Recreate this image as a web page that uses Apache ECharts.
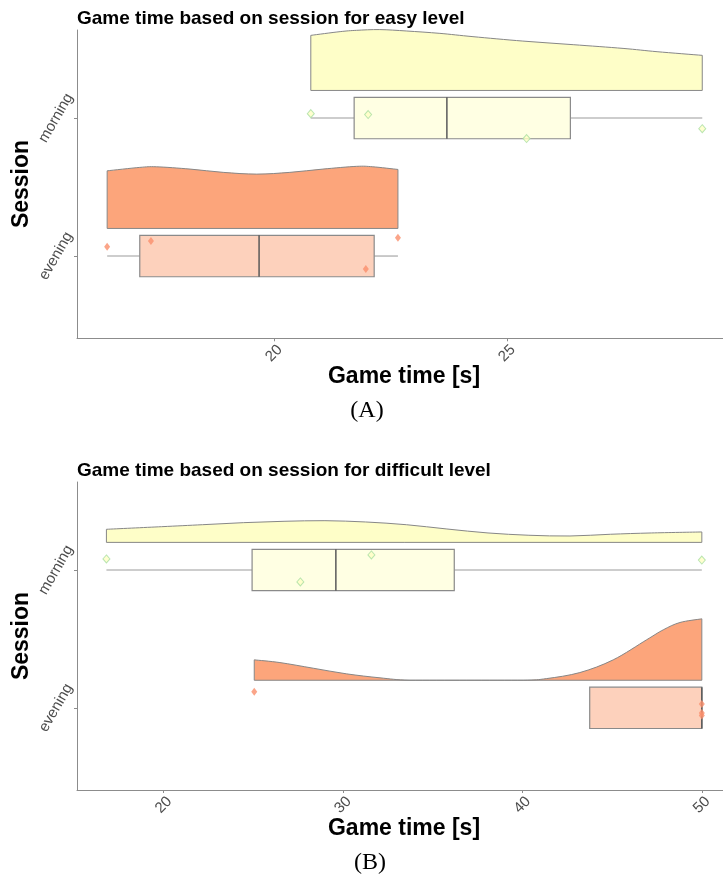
<!DOCTYPE html>
<html><head><meta charset="utf-8">
<script src="https://cdn.jsdelivr.net/npm/echarts@6/dist/echarts.min.js"></script>
<style>html,body{margin:0;padding:0;background:#fff}#c{width:723px;height:882px}</style>
</head><body><div id="c"></div>
<script>
// ---------- data ----------
const sessions = ['evening', 'morning'];           // session axis: 1 = evening, 2 = morning
const easyTicks = [20, 25];
const hardTicks = [20, 30, 40, 50];

// raw game times (s) and jittered positions on the session axis
const easyEveningTimes = [16.42, 17.36, 21.97, 22.66];
const easyEveningJitter = [1.067, 1.109, 0.906, 1.133];
const easyMorningTimes = [20.79, 22.02, 25.42, 29.19];
const easyMorningJitter = [2.032, 2.025, 1.851, 1.923];
const hardEveningTimes = [25.05, 50, 50, 50];
const hardEveningJitter = [1.116, 1.027, 0.962, 0.944];
const hardMorningTimes = [16.81, 27.62, 31.58, 50];
const hardMorningJitter = [2.08, 1.913, 2.109, 2.072];

// box statistics: [whisker low, Q1, median, Q3, whisker high]
const easyEveningBox = [16.42, 17.12, 19.68, 22.15, 22.66];
const easyMorningBox = [20.79, 21.72, 23.71, 26.36, 29.19];
const hardEveningBox = [43.75, 43.75, 50, 50, 50];
const hardMorningBox = [16.81, 24.93, 29.6, 36.2, 50];

// density outlines (x in s, relative height 0..1)
const easyEveningDensX = [16.42, 17.12, 17.48, 18.2, 18.91, 19.63, 20.34, 21.05, 21.77, 22.12, 22.66];
const easyEveningDensH = [0.928, 0.983, 0.993, 0.956, 0.903, 0.875, 0.903, 0.956, 1.0, 0.993, 0.95];
const easyMorningDensX = [20.79, 21.42, 21.77, 22.27, 22.85, 23.56, 24.27, 25.34, 26.42, 27.49, 28.22, 29.19];
const easyMorningDensH = [0.887, 0.947, 0.968, 0.98, 0.957, 0.919, 0.866, 0.795, 0.737, 0.677, 0.624, 0.565];
const hardMorningDensX = [16.81, 19.88, 22.16, 24.44, 26.71, 28.99, 31.26, 33.53, 35.79, 38.08, 40.36, 42.65, 44.91, 47.19, 50];
const hardMorningDensH = [0.211, 0.253, 0.285, 0.318, 0.34, 0.35, 0.329, 0.285, 0.216, 0.152, 0.115, 0.103, 0.131, 0.152, 0.168];
const hardEveningDensX = [25.05, 26.48, 28.34, 30.2, 32.06, 33.73, 36.9, 40.04, 41.35, 43.2, 45.06, 46.92, 47.85, 48.78, 50];
const hardEveningDensH = [0.329, 0.285, 0.194, 0.103, 0.039, 0.0, 0.0, 0.0, 0.027, 0.124, 0.329, 0.652, 0.813, 0.931, 0.99];

// ---------- styling ----------
const FONT = 'Liberation Sans, Arial, sans-serif';
const AXIS_GRAY = '#8c8c8c';
const EVE_VIOLIN = '#FCA57B', EVE_BOX = '#FDD1BC', EVE_PT = '#FA8F6B';
const MOR_VIOLIN = '#FEFEC8', MOR_BOX = '#FFFFE3', MOR_PT_FILL = '#FFFFC4', MOR_PT_LINE = '#A9DFA3';
const VIOLIN_OFFSET = 0.2, VIOLIN_WIDTH = 0.45, BOX_HALF = 0.15;

function violinSeries(idx, xs, hs, center, fill) {
  return {
    type: 'custom', xAxisIndex: idx, yAxisIndex: idx, silent: true, z: 2,
    data: [[xs[0], center]],
    renderItem: function (params, api) {
      const base = center + VIOLIN_OFFSET;
      const pts = xs.map((x, i) => api.coord([x, base + hs[i] * VIOLIN_WIDTH]));
      const bl = api.coord([xs[0], base]);
      const br = api.coord([xs[xs.length - 1], base]);
      const by = bl[1];
      let d = 'M' + bl[0] + ' ' + bl[1] + ' L' + pts[0][0] + ' ' + pts[0][1];
      for (let i = 0; i < pts.length - 1; i++) {
        const p0 = pts[Math.max(0, i - 1)], p1 = pts[i], p2 = pts[i + 1], p3 = pts[Math.min(pts.length - 1, i + 2)];
        const c1x = p1[0] + (p2[0] - p0[0]) / 6, c1y = Math.min(by, p1[1] + (p2[1] - p0[1]) / 6);
        const c2x = p2[0] - (p3[0] - p1[0]) / 6, c2y = Math.min(by, p2[1] - (p3[1] - p1[1]) / 6);
        d += ' C' + c1x + ' ' + c1y + ' ' + c2x + ' ' + c2y + ' ' + p2[0] + ' ' + p2[1];
      }
      d += ' L' + br[0] + ' ' + br[1] + ' Z';
      return {
        type: 'path', shape: { pathData: d },
        style: { fill: fill, stroke: '#878787', lineWidth: 1 }
      };
    }
  };
}

function boxSeries(idx, stats, center, fill) {
  return {
    type: 'custom', xAxisIndex: idx, yAxisIndex: idx, silent: true, z: 3,
    data: [[stats[2], center]],
    renderItem: function (params, api) {
      const [wl, q1, med, q3, wh] = stats;
      const children = [];
      const cl = api.coord([wl, center]), cq1 = api.coord([q1, center]);
      const cq3 = api.coord([q3, center]), ch = api.coord([wh, center]);
      if (wl < q1) children.push({ type: 'line', shape: { x1: cl[0], y1: cl[1], x2: cq1[0], y2: cq1[1] }, style: { stroke: '#bdbdbd', lineWidth: 1.6 } });
      if (wh > q3) children.push({ type: 'line', shape: { x1: cq3[0], y1: cq3[1], x2: ch[0], y2: ch[1] }, style: { stroke: '#bdbdbd', lineWidth: 1.6 } });
      const tl = api.coord([q1, center + BOX_HALF]);
      const brc = api.coord([q3, center - BOX_HALF]);
      children.push({ type: 'rect', shape: { x: tl[0], y: tl[1], width: brc[0] - tl[0], height: brc[1] - tl[1] }, style: { fill: fill, stroke: '#8a8a8a', lineWidth: 1.2 } });
      const mt = api.coord([med, center + BOX_HALF]), mb = api.coord([med, center - BOX_HALF]);
      children.push({ type: 'line', shape: { x1: mt[0], y1: mt[1], x2: mb[0], y2: mb[1] }, style: { stroke: '#5a5a5a', lineWidth: 1.5 } });
      return { type: 'group', children: children };
    }
  };
}

function pointSeries(idx, times, jitter, evening) {
  return {
    type: 'scatter', xAxisIndex: idx, yAxisIndex: idx, silent: true, z: 4,
    symbol: 'diamond', symbolSize: evening ? [6, 8] : [7, 8],
    itemStyle: evening ? { color: EVE_PT } : { color: MOR_PT_FILL, borderColor: MOR_PT_LINE, borderWidth: 1 },
    data: times.map((t, i) => [t, jitter[i]])
  };
}

function xAxisCfg(idx, min, max, ticks) {
  return {
    gridIndex: idx, type: 'value', min: min, max: max,
    axisLine: { show: true, lineStyle: { color: AXIS_GRAY, width: 1 } },
    axisTick: { show: true, customValues: ticks, length: 3, lineStyle: { color: AXIS_GRAY } },
    axisLabel: { customValues: ticks, rotate: 45, align: 'center', verticalAlign: 'middle', margin: 15,
                 fontSize: 15, color: '#4d4d4d', fontFamily: FONT },
    splitLine: { show: false }
  };
}
function yAxisCfg(idx) {
  return {
    gridIndex: idx, type: 'value', min: 0.404, max: 2.638,
    axisLine: { show: true, lineStyle: { color: AXIS_GRAY, width: 1 } },
    axisTick: { show: true, customValues: [1, 2], length: 3, lineStyle: { color: AXIS_GRAY } },
    axisLabel: { customValues: [1, 2], formatter: v => sessions[Math.round(v) - 1], rotate: 60,
                 align: 'center', verticalAlign: 'middle', margin: 21,
                 fontSize: 15, color: '#4d4d4d', fontFamily: FONT },
    splitLine: { show: false }
  };
}

function txt(x, y, text, size, weight, family, align, rot) {
  return {
    type: 'text', x: x, y: y, rotation: rot || 0, silent: true,
    style: { text: text, fontSize: size, fontWeight: weight, fontFamily: family,
             fill: '#000', align: align || 'center', verticalAlign: 'middle' }
  };
}

const chart = echarts.init(document.getElementById('c'), null, { renderer: 'canvas' });
chart.setOption({
  animation: false,
  backgroundColor: '#fff',
  grid: [
    { left: 77, top: 30, width: 646, height: 308.3 },
    { left: 77, top: 482, width: 646, height: 308 }
  ],
  xAxis: [xAxisCfg(0, 15.773, 29.635, easyTicks), xAxisCfg(1, 15.17, 51.18, hardTicks)],
  yAxis: [yAxisCfg(0), yAxisCfg(1)],
  graphic: [
    txt(77, 19, 'Game time based on session for easy level', 19, 'bold', FONT, 'left'),
    txt(77, 471, 'Game time based on session for difficult level', 19, 'bold', FONT, 'left'),
    txt(22, 184, 'Session', 23, 'bold', FONT, 'center', Math.PI / 2),
    txt(22, 636, 'Session', 23, 'bold', FONT, 'center', Math.PI / 2),
    txt(404, 377, 'Game time [s]', 23, 'bold', FONT),
    txt(404, 829, 'Game time [s]', 23, 'bold', FONT),
    txt(367, 411, '(A)', 24, 'normal', 'Liberation Serif, serif'),
    txt(370, 863, '(B)', 24, 'normal', 'Liberation Serif, serif')
  ],
  series: [
    violinSeries(0, easyEveningDensX, easyEveningDensH, 1, EVE_VIOLIN),
    violinSeries(0, easyMorningDensX, easyMorningDensH, 2, MOR_VIOLIN),
    boxSeries(0, easyEveningBox, 1, EVE_BOX),
    boxSeries(0, easyMorningBox, 2, MOR_BOX),
    pointSeries(0, easyEveningTimes, easyEveningJitter, true),
    pointSeries(0, easyMorningTimes, easyMorningJitter, false),
    violinSeries(1, hardEveningDensX, hardEveningDensH, 1, EVE_VIOLIN),
    violinSeries(1, hardMorningDensX, hardMorningDensH, 2, MOR_VIOLIN),
    boxSeries(1, hardEveningBox, 1, EVE_BOX),
    boxSeries(1, hardMorningBox, 2, MOR_BOX),
    pointSeries(1, hardEveningTimes, hardEveningJitter, true),
    pointSeries(1, hardMorningTimes, hardMorningJitter, false)
  ]
});
</script>
</body></html>
